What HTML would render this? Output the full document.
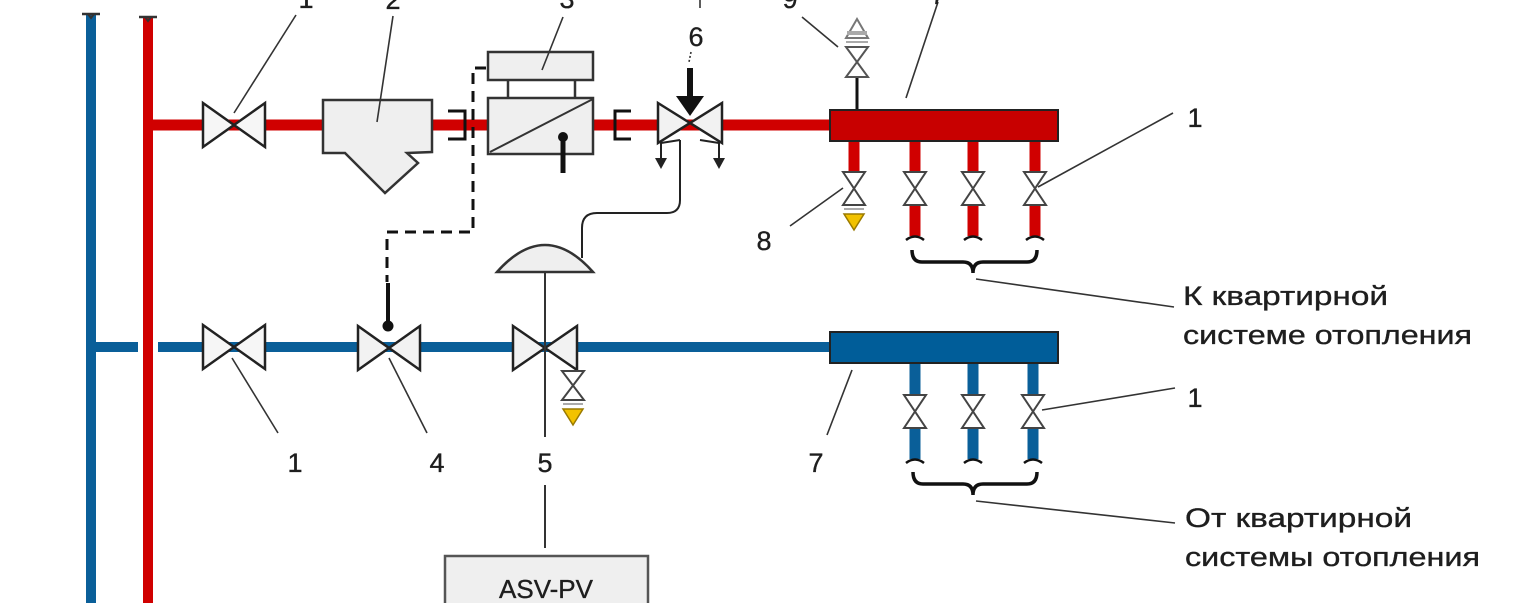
<!DOCTYPE html>
<html><head><meta charset="utf-8"><style>
html,body{margin:0;padding:0;background:#fff;}
svg{display:block;}
text{font-family:"Liberation Sans",sans-serif;fill:#1e1e1e;stroke:#1e1e1e;stroke-width:0.35;}
</style></head><body>
<svg width="1514" height="603" viewBox="0 0 1514 603" xmlns="http://www.w3.org/2000/svg">
<rect width="1514" height="603" fill="#fff"/>

<!-- vertical risers -->
<line x1="91" y1="15" x2="91" y2="603" stroke="#0a5f99" stroke-width="10"/>
<path d="M82 14 L100 14" stroke="#333" stroke-width="2.5"/>
<path d="M88 14 L91 18 L94 14" stroke="#333" stroke-width="2" fill="none"/>
<line x1="148" y1="18" x2="148" y2="603" stroke="#d00000" stroke-width="10"/>
<path d="M139 17 L157 17" stroke="#333" stroke-width="2.5"/>
<path d="M145 17 L148 21 L151 17" stroke="#333" stroke-width="2" fill="none"/>

<!-- red supply horizontal -->
<line x1="148" y1="125" x2="832" y2="125" stroke="#d00000" stroke-width="11"/>
<!-- blue return horizontal (gap at red riser) -->
<line x1="91" y1="347" x2="138" y2="347" stroke="#0a5f99" stroke-width="10"/>
<line x1="158" y1="347" x2="832" y2="347" stroke="#0a5f99" stroke-width="10"/>

<!-- valve 1 top -->
<path d="M203 103 L265 147 L265 103 L203 147 Z" fill="#f6f6f6" stroke="#222" stroke-width="2.5"/>
<!-- strainer 2 -->
<path d="M323 100 L432 100 L432 152 L407 153 L418 163 L385 193 L345 153 L323 153 Z" fill="#efefef" stroke="#333" stroke-width="2.5"/>
<!-- fittings -->
<path d="M448 111 L465 111 L465 139 L448 139" fill="none" stroke="#111" stroke-width="3"/>
<path d="M631 111 L615 111 L615 139 L631 139" fill="none" stroke="#111" stroke-width="3"/>

<!-- box 3 -->
<line x1="508" y1="80" x2="508" y2="98" stroke="#333" stroke-width="2.5"/>
<line x1="575" y1="80" x2="575" y2="98" stroke="#333" stroke-width="2.5"/>
<rect x="488" y="52" width="105" height="28" fill="#efefef" stroke="#333" stroke-width="2.5"/>
<rect x="488" y="98" width="105" height="56" fill="#efefef" stroke="#333" stroke-width="2.5"/>
<line x1="490" y1="152" x2="593" y2="99" stroke="#333" stroke-width="2"/>
<line x1="563" y1="137" x2="563" y2="173" stroke="#111" stroke-width="5"/>
<circle cx="563" cy="137" r="5" fill="#111"/>

<!-- dashed impulse line -->
<path d="M486 68 L473 68 L473 232 L387 232 L387 282" fill="none" stroke="#111" stroke-width="3" stroke-dasharray="11 7"/>
<line x1="388" y1="283" x2="388" y2="322" stroke="#111" stroke-width="4"/>
<circle cx="388" cy="326" r="5.5" fill="#111"/>

<!-- valve 6 -->
<path d="M658 103 L722 143 L722 103 L658 143 Z" fill="#f2f2f2" stroke="#222" stroke-width="2.5"/>
<line x1="690" y1="68" x2="690" y2="100" stroke="#111" stroke-width="6"/>
<path d="M676 96 L704 96 L690 116 Z" fill="#111"/>
<path d="M680 140 L661 143 L661 160" fill="none" stroke="#222" stroke-width="2"/>
<path d="M655 158 L667 158 L661 169 Z" fill="#222"/>
<path d="M700 140 L719 143 L719 160" fill="none" stroke="#222" stroke-width="2"/>
<path d="M713 158 L725 158 L719 169 Z" fill="#222"/>
<!-- capillary -->
<path d="M680 140 L680 200 Q680 213 667 213 L597 213 Q582 213 582 228 L582 258" fill="none" stroke="#222" stroke-width="2"/>

<!-- valve 5 diaphragm -->
<path d="M497 272 Q545 218 593 272 Z" fill="#efefef" stroke="#333" stroke-width="2.5"/>
<line x1="545" y1="272" x2="545" y2="437" stroke="#333" stroke-width="2"/>

<!-- valve 1 bottom, 4, 5 -->
<path d="M203 325 L265 369 L265 325 L203 369 Z" fill="#f6f6f6" stroke="#222" stroke-width="2.5"/>
<path d="M358 326 L420 370 L420 326 L358 370 Z" fill="#f2f2f2" stroke="#222" stroke-width="2.5"/>
<path d="M513 326 L577 370 L577 326 L513 370 Z" fill="#f2f2f2" stroke="#222" stroke-width="2.5"/>
<line x1="545" y1="326" x2="545" y2="370" stroke="#333" stroke-width="2"/>

<!-- drain under valve 5 -->
<path d="M562 371 L584 371 L562 400 L584 400 Z" fill="#fff" stroke="#444" stroke-width="2"/>
<line x1="563" y1="404" x2="583" y2="404" stroke="#aaa" stroke-width="2"/>
<path d="M563 409 L583 409 L573 425 Z" fill="#f2c200" stroke="#9a7a00" stroke-width="1.5"/>

<!-- red manifold -->
<line x1="857" y1="78" x2="857" y2="111" stroke="#111" stroke-width="3"/>
<g stroke="#d00000" stroke-width="11">
<line x1="854" y1="141" x2="854" y2="173"/>
<line x1="915" y1="141" x2="915" y2="173"/><line x1="915" y1="204" x2="915" y2="236"/>
<line x1="973" y1="141" x2="973" y2="173"/><line x1="973" y1="204" x2="973" y2="236"/>
<line x1="1035" y1="141" x2="1035" y2="173"/><line x1="1035" y1="204" x2="1035" y2="236"/>
</g>
<rect x="830" y="110" width="228" height="31" fill="#c80000" stroke="#222" stroke-width="2"/>
<g fill="#fff" stroke="#444" stroke-width="2">
<path d="M843 172 L865 172 L843 205 L865 205 Z"/>
<path d="M904 172 L926 172 L904 205 L926 205 Z"/>
<path d="M962 172 L984 172 L962 205 L984 205 Z"/>
<path d="M1024 172 L1046 172 L1024 205 L1046 205 Z"/>
</g>
<line x1="844" y1="209" x2="864" y2="209" stroke="#aaa" stroke-width="2"/>
<path d="M844 214 L864 214 L854 230 Z" fill="#f2c200" stroke="#9a7a00" stroke-width="1.5"/>
<g stroke="#111" stroke-width="2.5" fill="none">
<path d="M906 240 Q915 233 924 240"/><path d="M964 240 Q973 233 982 240"/><path d="M1026 240 Q1035 233 1044 240"/>
</g>
<path d="M912 250 Q912 262 922 262 L963 262 Q973 262 973 273 Q973 262 983 262 L1027 262 Q1037 262 1037 250" fill="none" stroke="#111" stroke-width="3.5"/>

<!-- air vent 9 -->
<path d="M846 47 L868 47 L846 77 L868 77 Z" fill="#fff" stroke="#555" stroke-width="2"/>
<path d="M846 38 L857 19 L868 38 Z" fill="#fff" stroke="#777" stroke-width="2"/>
<line x1="847" y1="33" x2="867" y2="33" stroke="#aaa" stroke-width="4"/>
<line x1="846" y1="42" x2="868" y2="42" stroke="#aaa" stroke-width="2"/>

<!-- blue manifold -->
<g stroke="#0a5f99" stroke-width="11">
<line x1="915" y1="363" x2="915" y2="395"/><line x1="915" y1="427" x2="915" y2="459"/>
<line x1="973" y1="363" x2="973" y2="395"/><line x1="973" y1="427" x2="973" y2="459"/>
<line x1="1033" y1="363" x2="1033" y2="395"/><line x1="1033" y1="427" x2="1033" y2="459"/>
</g>
<rect x="830" y="332" width="228" height="31" fill="#005d99" stroke="#222" stroke-width="2"/>
<g fill="#fff" stroke="#444" stroke-width="2">
<path d="M904 395 L926 395 L904 428 L926 428 Z"/>
<path d="M962 395 L984 395 L962 428 L984 428 Z"/>
<path d="M1022 395 L1044 395 L1022 428 L1044 428 Z"/>
</g>
<g stroke="#111" stroke-width="2.5" fill="none">
<path d="M906 463 Q915 456 924 463"/><path d="M964 463 Q973 456 982 463"/><path d="M1024 463 Q1033 456 1042 463"/>
</g>
<path d="M913 472 Q913 484 923 484 L963 484 Q973 484 973 495 Q973 484 983 484 L1027 484 Q1037 484 1037 472" fill="none" stroke="#111" stroke-width="3.5"/>

<!-- ASV-PV box -->
<line x1="545" y1="485" x2="545" y2="548" stroke="#333" stroke-width="2"/>
<rect x="445" y="556" width="203" height="60" fill="#efefef" stroke="#555" stroke-width="2.5"/>
<text x="546" y="598" font-size="26" text-anchor="middle">ASV-PV</text>

<!-- leader lines -->
<g stroke="#333" stroke-width="1.6" fill="none">
<line x1="234" y1="113" x2="296" y2="15"/>
<line x1="377" y1="122" x2="393" y2="16"/>
<line x1="563" y1="17" x2="542" y2="70"/>
<line x1="700" y1="0" x2="700" y2="8"/>
<line x1="691" y1="52" x2="689" y2="62" stroke-dasharray="2 2"/>
<line x1="802" y1="17" x2="838" y2="47"/>
<line x1="938" y1="2" x2="906" y2="98"/>
<line x1="1038" y1="187" x2="1173" y2="113"/>
<line x1="843" y1="188" x2="790" y2="226"/>
<line x1="976" y1="279" x2="1174" y2="307"/>
<line x1="232" y1="358" x2="278" y2="433"/>
<line x1="389" y1="358" x2="427" y2="433"/>
<line x1="852" y1="370" x2="827" y2="435"/>
<line x1="1042" y1="410" x2="1175" y2="388"/>
<line x1="976" y1="501" x2="1175" y2="523"/>
</g>

<!-- labels -->
<g font-size="27" text-anchor="middle">
<text x="306" y="8">1</text>
<text x="393" y="9">2</text>
<text x="567" y="8">3</text>
<text x="790" y="8">9</text>
<text x="938" y="4">7</text>
<text x="696" y="46">6</text>
<text x="1195" y="127">1</text>
<text x="764" y="250">8</text>
<text x="295" y="472">1</text>
<text x="437" y="472">4</text>
<text x="545" y="472">5</text>
<text x="816" y="472">7</text>
<text x="1195" y="407">1</text>
</g>
<g font-size="27">
<text x="1183" y="305" textLength="205" lengthAdjust="spacingAndGlyphs">К квартирной</text>
<text x="1183" y="344" textLength="289" lengthAdjust="spacingAndGlyphs">системе отопления</text>
<text x="1185" y="527" textLength="227" lengthAdjust="spacingAndGlyphs">От квартирной</text>
<text x="1185" y="566" textLength="295" lengthAdjust="spacingAndGlyphs">системы отопления</text>
</g>
</svg>
</body></html>
